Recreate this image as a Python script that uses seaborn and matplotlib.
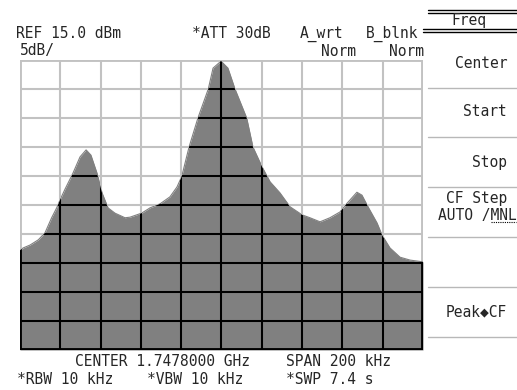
import matplotlib
matplotlib.use("Agg")
import numpy as np
import pandas as pd
import seaborn as sns
import matplotlib.pyplot as plt
from matplotlib.lines import Line2D

# ---- data (frequency offset from center in kHz, level in dBm) ----
freq_offset_khz = [-100.0, -98.4, -95.0, -90.9, -87.6, -84.3, -81.8, -80.1, -77.7, -73.7,
                   -70.2, -67.2, -64.8, -61.8, -59.3, -56.3, -52.9, -47.9, -45.4, -39.6,
                   -35.5, -30.5, -25.6, -22.1, -19.75, -16.1, -11.7, -6.55, -4.2, -0.25,
                   3.2, 6.7, 12.5, 15.6, 20.1, 24.1, 29.0, 34.0, 40.0, 43.9,
                   48.9, 53.8, 58.8, 62.3, 67.2, 69.7, 72.7, 77.2, 79.7, 83.6,
                   88.6, 93.6, 100.0]
level_dbm = [-17.8, -17.4, -16.9, -16.0, -14.8, -12.2, -10.5, -9.1, -7.3, -4.5,
             -1.7, -0.5, -1.4, -4.5, -7.9, -10.5, -11.4, -12.2, -12.1, -11.4,
             -10.5, -9.8, -8.6, -6.9, -5.1, 0.0, 5.0, 10.0, 13.6, 14.8,
             13.6, 10.0, 5.0, 0.0, -3.4, -6.0, -7.9, -10.3, -11.7, -12.2,
             -12.9, -12.2, -11.2, -9.7, -7.8, -8.3, -10.3, -13.1, -15.2, -17.4,
             -19.0, -19.5, -19.8]
ref_level_dbm = 15.0
db_per_div = 5
n_div = 10
span_khz = 200

header_left = ["REF 15.0 dBm", "5dB/"]
header_mid = ["*ATT 30dB", "A_wrt", "B_blnk", "Norm", "Norm"]
menu_labels = ["Freq", "Center", "Start", "Stop", "CF Step", "AUTO /MNL", "Peak\u25c6CF"]
footer = ["CENTER 1.7478000 GHz", "SPAN 200 kHz", "*RBW 10 kHz", "*VBW 10 kHz", "*SWP 7.4 s"]

sns.set_theme(style="white")
plt.rcParams['font.family'] = ['DejaVu Sans Mono', 'DejaVu Sans']

W, H = 517, 390
fig = plt.figure(figsize=(W / 100, H / 100), dpi=100)
fig.patch.set_facecolor("white")


def fx(x):
    return x / W


def fy(y):
    return 1 - y / H


ax = fig.add_axes([fx(20), 40 / H, 403 / W, 290 / H])
ax.set_facecolor("white")
bottom = ref_level_dbm - n_div * db_per_div
df = pd.DataFrame({"freq": freq_offset_khz, "level": level_dbm})

FILL = "#808080"
fill = ax.fill_between(df["freq"], df["level"], bottom, color=FILL, lw=0, zorder=1)
sns.lineplot(data=df, x="freq", y="level", ax=ax, color=FILL, lw=0.8, zorder=1.5)

ax.set_xlim(-span_khz / 2, span_khz / 2)
ax.set_ylim(bottom, ref_level_dbm)
for s in ax.spines.values():
    s.set_visible(False)
ax.set_xticks([])
ax.set_yticks([])
ax.set_xlabel("")
ax.set_ylabel("")

clip_path = fill.get_paths()[0]
xt = np.linspace(-span_khz / 2, span_khz / 2, n_div + 1)
yt = np.linspace(bottom, ref_level_dbm, n_div + 1)
for i, x in enumerate(xt):
    lw = 2.8 if i in (0, n_div) else 1.5
    ax.axvline(x, color="#c2c2c2", lw=lw, zorder=2)
    ln = ax.axvline(x, color="black", lw=lw, zorder=3)
    ln.set_clip_path(clip_path, ax.transData)
for i, y in enumerate(yt):
    lw = 2.8 if i in (0, n_div) else 1.5
    ax.axhline(y, color="#c2c2c2", lw=lw, zorder=2)
    ln = ax.axhline(y, color="black", lw=lw, zorder=3)
    ln.set_clip_path(clip_path, ax.transData)

FS = 10.5
# header
fig.text(fx(16), fy(34), header_left[0], fontsize=FS, va="center", ha="left")
fig.text(fx(20), fy(50), header_left[1], fontsize=FS, va="center", ha="left")
fig.text(fx(192), fy(34), header_mid[0], fontsize=FS, va="center", ha="left")
fig.text(fx(300), fy(34), header_mid[1], fontsize=FS, va="center", ha="left")
fig.text(fx(366), fy(34), header_mid[2], fontsize=FS, va="center", ha="left")
fig.text(fx(356), fy(51), header_mid[3], fontsize=FS, va="center", ha="right")
fig.text(fx(424), fy(51), header_mid[4], fontsize=FS, va="center", ha="right")

# right menu panel
def hline(y, x0, x1, color="#b8b8b8", lw=1.0):
    fig.add_artist(Line2D([fx(x0), fx(x1)], [fy(y), fy(y)], color=color, lw=lw))

hline(10, 428, 517, "black", 1.0)
hline(13, 428, 517, "black", 1.0)
hline(29, 423, 517, "black", 1.0)
hline(32, 423, 517, "black", 1.0)
for y in (88, 137, 187, 237, 287, 337):
    hline(y, 428, 517)

fig.text(fx(469), fy(21), menu_labels[0], fontsize=FS, va="center", ha="center")
fig.text(fx(507), fy(63), menu_labels[1], fontsize=FS, va="center", ha="right")
fig.text(fx(507), fy(112), menu_labels[2], fontsize=FS, va="center", ha="right")
fig.text(fx(507), fy(162), menu_labels[3], fontsize=FS, va="center", ha="right")
fig.text(fx(507), fy(199), menu_labels[4], fontsize=FS, va="center", ha="right")
fig.text(fx(517), fy(215), menu_labels[5], fontsize=FS, va="center", ha="right")
fig.add_artist(Line2D([fx(491), fx(516)], [fy(222), fy(222)], color="black", lw=0.8, ls=(0, (1, 1))))
fig.text(fx(507), fy(312), menu_labels[6], fontsize=FS, va="center", ha="right")

# footer
fig.text(fx(75), fy(362), footer[0], fontsize=FS, va="center", ha="left")
fig.text(fx(286), fy(362), footer[1], fontsize=FS, va="center", ha="left")
fig.text(fx(17), fy(379), footer[2], fontsize=FS, va="center", ha="left")
fig.text(fx(147), fy(379), footer[3], fontsize=FS, va="center", ha="left")
fig.text(fx(286), fy(379), footer[4], fontsize=FS, va="center", ha="left")

fig.savefig("out.png", dpi=100, facecolor="white")
